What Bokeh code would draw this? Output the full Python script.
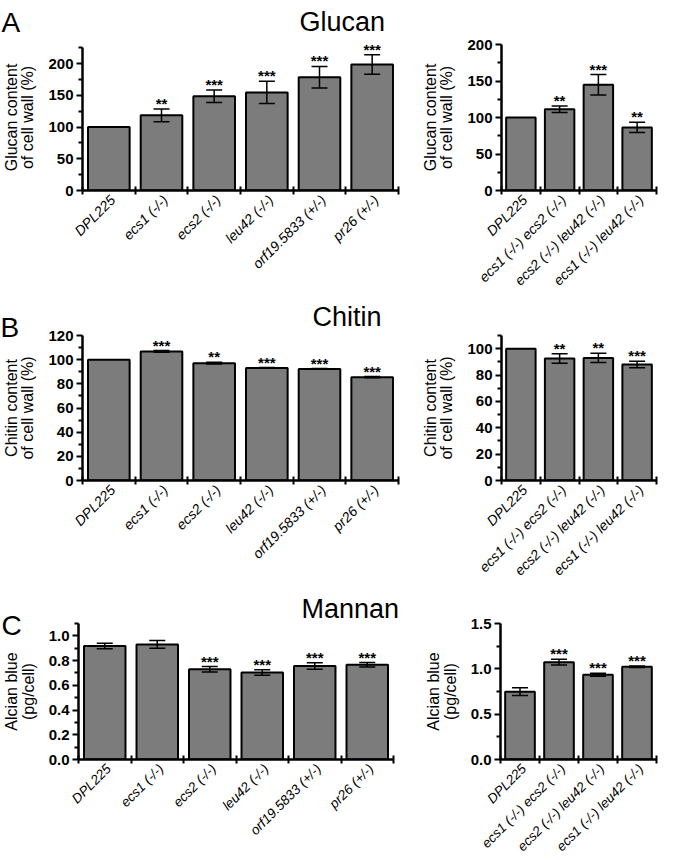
import math
from bokeh.plotting import figure
from bokeh.models import (FixedTicker, Whisker, ColumnDataSource, Label, LabelSet,
                          TeeHead, PrintfTickFormatter)
from bokeh.layouts import row, column
from bokeh.core.properties import value
from bokeh.embed import file_html
from bokeh.resources import INLINE

FONT = "Liberation Sans"
BAR_FILL = "#7c7c7c"

# ---------------- data ----------------
single_strains = ["DPL225", "ecs1 (-/-)", "ecs2 (-/-)", "leu42 (-/-)",
                  "orf19.5833 (+/-)", "pr26 (+/-)"]
double_strains = ["DPL225", "ecs1 (-/-) ecs2 (-/-)", "ecs2 (-/-) leu42 (-/-)",
                  "ecs1 (-/-) leu42 (-/-)"]

glucan_single = [100, 118.5, 148.5, 154.5, 178.5, 198.5]
glucan_single_err = [0, 10, 10, 17.5, 17, 15.5]
glucan_single_sig = ["", "**", "***", "***", "***", "***"]

glucan_double = [100, 111.3, 144.8, 86.4]
glucan_double_err = [0, 4.6, 14, 7]
glucan_double_sig = ["", "**", "***", "**"]

chitin_single = [100, 106.8, 97.1, 93.2, 92.3, 85.5]
chitin_single_err = [0, 0.7, 0.7, 0.3, 0.3, 0.5]
chitin_single_sig = ["", "***", "**", "***", "***", "***"]

chitin_double = [100, 92.5, 93.0, 88.0]
chitin_double_err = [0, 3.6, 3.5, 2.4]
chitin_double_sig = ["", "**", "**", "***"]

mannan_single = [0.918, 0.931, 0.730, 0.704, 0.756, 0.766]
mannan_single_err = [0.023, 0.032, 0.022, 0.022, 0.026, 0.018]
mannan_single_sig = ["", "", "***", "***", "***", "***"]

mannan_double = [0.748, 1.073, 0.935, 1.024]
mannan_double_err = [0.042, 0.032, 0.017, 0.008]
mannan_double_sig = ["", "***", "***", "***"]

panel_letters = ["A", "B", "C"]
panel_titles = ["Glucan", "Chitin", "Mannan"]

glucan_label = "Glucan content\nof cell wall (%)"
chitin_label = "Chitin content\nof cell wall (%)"
mannan_label = "Alcian blue\n(pg/cell)"

glucan_single_ticks = [0, 50, 100, 150, 200]
glucan_double_ticks = [0, 50, 100, 150, 200]
chitin_single_ticks = [0, 20, 40, 60, 80, 100, 120]
chitin_double_ticks = [0, 20, 40, 60, 80, 100]
mannan_single_ticks = [0.0, 0.2, 0.4, 0.6, 0.8, 1.0]
mannan_double_ticks = [0.0, 0.5, 1.0, 1.5]

glucan_single_minor = [25, 75, 125, 175, 225]
glucan_double_minor = [25, 75, 125, 175]
chitin_single_minor = [10, 30, 50, 70, 90, 110]
chitin_double_minor = [10, 30, 50, 70, 90, 110]
mannan_single_minor = [0.1, 0.3, 0.5, 0.7, 0.9, 1.1]
mannan_double_minor = [0.25, 0.75, 1.25]


def make_chart(names, vals, errs, sigs, ymax, yshow, ticks, minors, fmt, ylabel,
               width, height, bl, br, bt, bb, bar_w, xfont="14px"):
    n = len(names)
    fw = width - bl - br
    p = figure(width=width, height=height, x_range=(0, n), y_range=(0, ymax),
               output_backend="svg", toolbar_location=None,
               min_border_left=bl, min_border_right=br,
               min_border_top=bt, min_border_bottom=bb)
    p.outline_line_color = None
    p.xgrid.visible = False
    p.ygrid.visible = False
    p.background_fill_color = "white"
    p.border_fill_color = "white"

    xs = [i + 0.5 for i in range(n)]
    src = ColumnDataSource(dict(x=xs, top=vals))
    p.vbar(x="x", top="top", bottom=0, width=bar_w, source=src,
           fill_color=BAR_FILL, line_color="black", line_width=2)

    # error bars
    ex = [x for x, e in zip(xs, errs) if e > 0]
    eu = [v + e for v, e in zip(vals, errs) if e > 0]
    el = [v - e for v, e in zip(vals, errs) if e > 0]
    wsrc = ColumnDataSource(dict(x=ex, upper=eu, lower=el))
    w = Whisker(base="x", upper="upper", lower="lower", source=wsrc,
                line_width=1.5, line_color="black",
                upper_head=TeeHead(size=16, line_width=1.5, line_color="black"),
                lower_head=TeeHead(size=16, line_width=1.5, line_color="black"))
    w.level = "overlay"
    p.add_layout(w)

    # significance stars
    ssrc = ColumnDataSource(dict(x=xs, y=[v + e for v, e in zip(vals, errs)], t=sigs))
    ls = LabelSet(x="x", y="y", text="t", source=ssrc, text_align="center",
                  text_baseline="alphabetic", y_offset=0,
                  text_font=value(FONT), text_font_size=value("15px"),
                  text_font_style=value("bold"), text_color="black")
    p.add_layout(ls)

    # y axis
    ya = p.yaxis[0]
    ya.ticker = FixedTicker(ticks=ticks, minor_ticks=minors)
    ya.formatter = PrintfTickFormatter(format=fmt)
    ya.bounds = (0, yshow)
    ya.axis_line_width = 2.5
    ya.axis_line_color = "black"
    ya.major_tick_line_width = 2
    ya.minor_tick_line_width = 2
    ya.major_tick_out = 6
    ya.major_tick_in = 0
    ya.minor_tick_out = 4
    ya.minor_tick_in = 0
    ya.major_label_text_font = FONT
    ya.major_label_text_font_size = "15px"
    ya.major_label_text_font_style = "bold"
    ya.major_label_text_color = "black"
    ya.major_label_standoff = 3
    ya.axis_label = ylabel
    ya.axis_label_text_font = FONT
    ya.axis_label_text_font_size = "16px"
    ya.axis_label_text_font_style = "normal"
    ya.axis_label_text_color = "black"
    ya.axis_label_text_line_height = 0.95
    ya.axis_label_standoff = 9

    # x axis: boundary ticks drawn as minor ticks; invisible major ticks carry the
    # category names, nudged a few pixels right of the bar centres
    nudge = 4 * n / fw
    lx = [round(x + nudge, 4) for x in xs]
    xa = p.xaxis[0]
    xa.ticker = FixedTicker(ticks=lx, minor_ticks=list(range(n + 1)))
    xa.axis_line_width = 2.5
    xa.axis_line_color = "black"
    xa.major_tick_line_color = None
    xa.major_tick_in = 0
    xa.major_tick_out = 4
    xa.minor_tick_line_color = "black"
    xa.minor_tick_line_width = 2
    xa.minor_tick_in = 4
    xa.minor_tick_out = 4
    xa.major_label_overrides = {x: nm for x, nm in zip(lx, names)}
    xa.major_label_orientation = math.pi / 4
    xa.major_label_text_font = FONT
    xa.major_label_text_font_size = xfont
    xa.major_label_text_font_style = "italic"
    xa.major_label_text_color = "black"
    xa.major_label_standoff = 3
    return p


def heading(p, letter, title, offset, standoff, lx, ly):
    # panel title (above the frame)
    p.title.text = title
    p.title.align = "left"
    p.title.offset = offset
    p.title.standoff = standoff
    p.title.vertical_align = "top"
    p.title.text_font = FONT
    p.title.text_font_size = "27px"
    p.title.text_font_style = "normal"
    p.title.text_color = "black"
    # panel letter: screen units relative to the right side panel
    p.add_layout(Label(x=lx, y=ly, x_units="screen", y_units="screen", text=letter,
                       text_align="left", text_baseline="alphabetic",
                       text_font=FONT, text_font_size="28px", text_color="black"),
                 "right")


LW, RW = 419, 240

# Row A
a1 = make_chart(single_strains, glucan_single, glucan_single_err, glucan_single_sig,
                230, 225, glucan_single_ticks, glucan_single_minor, "%d", glucan_label,
                LW, 297, 72, 21, 43, 107, 0.79)
heading(a1, panel_letters[0], panel_titles[0], 217, 12, -397, 168)
a2 = make_chart(double_strains, glucan_double, glucan_double_err, glucan_double_sig,
                200, 200, glucan_double_ticks, glucan_double_minor, "%d", glucan_label,
                RW, 297, 75, 3, 43, 107, 0.76)

# Row B
b1 = make_chart(single_strains, chitin_single, chitin_single_err, chitin_single_sig,
                120, 120, chitin_single_ticks, chitin_single_minor, "%d", chitin_label,
                LW, 290, 72, 21, 38, 105, 0.79)
heading(b1, panel_letters[1], panel_titles[1], 230, 4, -398, 153)
b2 = make_chart(double_strains, chitin_double, chitin_double_err, chitin_double_sig,
                110, 110, chitin_double_ticks, chitin_double_minor, "%d", chitin_label,
                RW, 290, 79, 3, 38, 105, 0.76)

# Row C
c1 = make_chart(single_strains, mannan_single, mannan_single_err, mannan_single_sig,
                1.1, 1.1, mannan_single_ticks, mannan_single_minor, "%.1f", mannan_label,
                LW, 275, 72, 26, 36, 96, 0.79, xfont="13.5px")
heading(c1, panel_letters[2], panel_titles[2], 223, -5, -392, 134)
c2 = make_chart(double_strains, mannan_double, mannan_double_err, mannan_double_sig,
                1.5, 1.5, mannan_double_ticks, mannan_double_minor, "%.1f", mannan_label,
                RW, 275, 81, 3, 36, 96, 0.76, xfont="13.5px")

layout = column(row(a1, a2), row(b1, b2), row(c1, c2))

with open("out.html", "w") as f:
    f.write(file_html(layout, INLINE))
